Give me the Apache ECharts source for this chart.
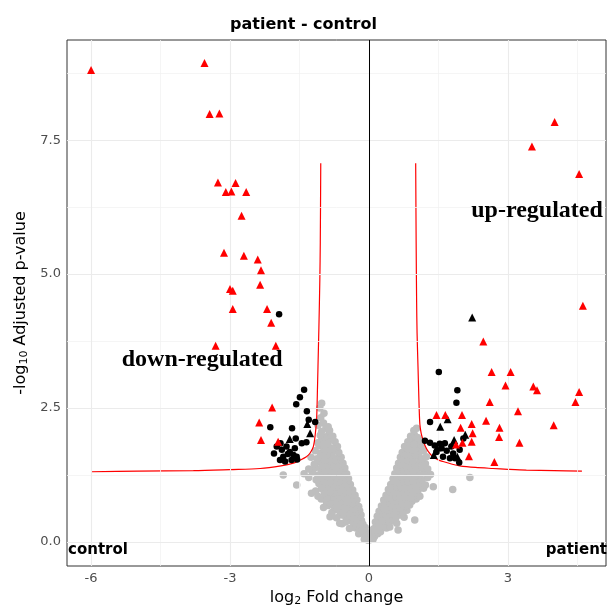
<!DOCTYPE html>
<html>
<head>
<meta charset="utf-8">
<title>patient - control</title>
<script src="https://cdn.jsdelivr.net/npm/echarts@6/dist/echarts.min.js"></script>
<style>
  html, body { margin: 0; padding: 0; background: #fff; }
  #volcano { width: 607px; height: 608px; }
</style>
</head>
<body>
<div id="volcano"></div>
<script>
  // axis ticks / gridlines
  const xTicks = [-6, -3, 0, 3];
  const xMinor = [-4.5, -1.5, 1.5, 4.5];
  const yTicks = [0, 2.5, 5, 7.5];
  const yMinor = [1.25, 3.75, 6.25, 8.75];

  // not significant (grey)
  const greyPts = [
    [-0.02,0.03],[-0.05,0.06],[-0.08,0.1],[-0.1,0.05],[-0.04,0.12],
    [-0.06,0.18],[-0.12,0.16],[-0.18,0.2],[-0.22,0.15],[-0.15,0.24],
    [-0.08,0.27],[-0.2,0.3],[-0.28,0.26],[-0.35,0.28],[-0.42,0.25],[-0.13,0.33],
    [-0.16,0.4],[-0.24,0.38],[-0.32,0.36],[-0.4,0.4],[-0.5,0.37],[-0.58,0.34],[-0.63,0.35],
    [-0.17,0.5],[-0.26,0.47],[-0.34,0.45],[-0.42,0.49],[-0.5,0.46],[-0.6,0.5],[-0.7,0.45],[-0.84,0.47],
    [-0.2,0.58],[-0.28,0.56],[-0.36,0.6],[-0.44,0.55],[-0.52,0.59],[-0.62,0.56],[-0.72,0.6],[-0.8,0.55],
    [-0.22,0.66],[-0.3,0.7],[-0.38,0.65],[-0.47,0.69],[-0.56,0.66],[-0.65,0.7],[-0.75,0.66],[-0.88,0.68],[-0.98,0.64],
    [-0.26,0.78],[-0.34,0.75],[-0.42,0.8],[-0.5,0.76],[-0.6,0.8],[-0.7,0.76],[-0.8,0.79],[-0.92,0.75],[-1.03,0.8],
    [-0.3,0.87],[-0.38,0.9],[-0.46,0.85],[-0.55,0.89],[-0.64,0.86],[-0.74,0.9],[-0.84,0.86],[-0.95,0.89],[-1.1,0.85],[-1.24,0.91],
    [-0.35,0.97],[-0.43,1.0],[-0.52,0.95],[-0.6,0.99],[-0.7,0.96],[-0.8,1.0],[-0.9,0.96],[-1.02,0.99],[-1.15,0.95],
    [-0.4,1.07],[-0.48,1.1],[-0.57,1.05],[-0.66,1.09],[-0.76,1.06],[-0.86,1.1],[-0.97,1.05],[-1.08,1.09],[-1.56,1.06],
    [-0.44,1.18],[-0.53,1.15],[-0.62,1.2],[-0.72,1.16],[-0.82,1.2],[-0.92,1.15],[-1.02,1.19],[-1.14,1.16],[-1.3,1.2],
    [-0.48,1.27],[-0.58,1.3],[-0.68,1.25],[-0.78,1.29],[-0.88,1.26],[-0.98,1.3],[-1.1,1.25],[-1.22,1.3],[-1.4,1.27],[-1.85,1.25],
    [-0.52,1.38],[-0.62,1.35],[-0.72,1.4],[-0.82,1.36],[-0.92,1.4],[-1.03,1.35],[-1.15,1.39],[-1.3,1.36],
    [-0.56,1.47],[-0.66,1.5],[-0.76,1.45],[-0.86,1.49],[-0.96,1.46],[-1.06,1.5],[-1.18,1.45],
    [-0.6,1.58],[-0.7,1.55],[-0.8,1.6],[-0.9,1.56],[-1.0,1.6],[-1.12,1.55],[-1.25,1.58],
    [-0.65,1.67],[-0.75,1.7],[-0.85,1.65],[-0.95,1.69],[-1.05,1.66],[-1.16,1.7],
    [-0.68,1.78],[-0.78,1.75],[-0.88,1.8],[-0.98,1.76],[-1.08,1.8],
    [-0.73,1.87],[-0.82,1.9],[-0.92,1.86],[-1.02,1.9],[-1.1,1.85],
    [-0.78,1.97],[-0.87,2.0],[-0.96,1.95],[-1.05,1.99],
    [-0.85,2.08],[-0.93,2.12],[-1.02,2.06],[-0.88,2.15],[-1.1,2.18],[-0.98,2.22],
    [-1.04,2.32],[-0.97,2.4],[-1.02,2.59],[-1.06,2.5],
    [-0.07,0.13],[-0.14,0.22],[-0.2,0.34],[-0.27,0.42],[-0.3,0.52],[-0.38,0.5],[-0.46,0.52],[-0.55,0.53],
    [-0.33,0.62],[-0.41,0.6],[-0.5,0.63],[-0.58,0.61],[-0.68,0.63],
    [-0.36,0.72],[-0.45,0.74],[-0.54,0.72],[-0.63,0.74],[-0.72,0.71],[-0.84,0.73],
    [-0.4,0.83],[-0.48,0.82],[-0.58,0.84],[-0.68,0.82],[-0.78,0.84],[-0.9,0.82],
    [-0.45,0.93],[-0.55,0.92],[-0.65,0.93],[-0.75,0.92],[-0.85,0.93],[-0.96,0.92],
    [-0.5,1.03],[-0.6,1.02],[-0.7,1.03],[-0.8,1.02],[-0.9,1.03],[-1.02,1.02],
    [-0.55,1.13],[-0.65,1.12],[-0.75,1.13],[-0.85,1.12],[-0.96,1.13],
    [-0.6,1.23],[-0.7,1.22],[-0.8,1.23],[-0.9,1.22],[-1.0,1.23],
    [-0.65,1.33],[-0.75,1.32],[-0.85,1.33],[-0.95,1.32],
    [-0.7,1.43],[-0.8,1.42],[-0.9,1.43],[-1.0,1.42],
    [-0.75,1.53],[-0.85,1.52],[-0.95,1.53],
    [-0.8,1.63],[-0.9,1.62],[-1.0,1.63],
    [-0.85,1.73],[-0.95,1.72],
    [-0.9,1.83],[-0.98,1.82],
    [0.02,0.04],[0.05,0.08],[0.09,0.05],[0.12,0.1],[0.04,0.13],
    [0.07,0.17],[0.13,0.2],[0.19,0.15],[0.25,0.19],[0.1,0.24],
    [0.15,0.28],[0.22,0.25],[0.3,0.3],[0.38,0.26],[0.45,0.28],[0.63,0.22],
    [0.14,0.37],[0.2,0.4],[0.28,0.35],[0.36,0.39],[0.44,0.36],[0.52,0.4],[0.6,0.35],
    [0.18,0.48],[0.25,0.45],[0.33,0.5],[0.41,0.46],[0.5,0.49],[0.58,0.45],[0.67,0.5],[0.76,0.46],[0.99,0.41],
    [0.22,0.57],[0.3,0.6],[0.38,0.55],[0.46,0.59],[0.55,0.56],[0.64,0.6],[0.73,0.55],[0.82,0.59],
    [0.27,0.67],[0.35,0.7],[0.43,0.65],[0.51,0.69],[0.6,0.66],[0.69,0.7],[0.78,0.66],[0.88,0.69],
    [0.32,0.78],[0.4,0.75],[0.48,0.8],[0.56,0.76],[0.65,0.8],[0.74,0.75],[0.83,0.79],[0.93,0.76],[1.02,0.8],
    [0.37,0.87],[0.45,0.9],[0.53,0.85],[0.62,0.89],[0.71,0.86],[0.8,0.9],[0.9,0.86],[1.0,0.9],[1.1,0.85],
    [0.42,0.98],[0.5,0.95],[0.58,1.0],[0.67,0.96],[0.76,1.0],[0.86,0.95],[0.96,0.99],[1.06,0.96],[1.18,1.0],[1.81,0.98],
    [0.47,1.07],[0.55,1.1],[0.63,1.05],[0.72,1.09],[0.81,1.06],[0.9,1.1],[1.0,1.05],[1.1,1.09],[1.22,1.06],[1.39,1.03],
    [0.52,1.18],[0.6,1.15],[0.68,1.2],[0.77,1.16],[0.86,1.2],[0.95,1.15],[1.05,1.19],[1.15,1.16],[1.27,1.2],
    [0.56,1.27],[0.64,1.3],[0.73,1.25],[0.82,1.29],[0.91,1.26],[1.0,1.3],[1.1,1.25],[1.2,1.29],[1.33,1.26],[2.18,1.2],
    [0.6,1.38],[0.68,1.35],[0.77,1.4],[0.86,1.36],[0.95,1.4],[1.05,1.35],[1.15,1.39],[1.27,1.36],
    [0.64,1.47],[0.72,1.5],[0.81,1.45],[0.9,1.49],[1.0,1.46],[1.1,1.5],[1.22,1.46],
    [0.68,1.58],[0.76,1.55],[0.85,1.6],[0.94,1.56],[1.04,1.6],[1.14,1.55],[1.24,1.59],
    [0.72,1.67],[0.81,1.7],[0.9,1.65],[0.99,1.69],[1.08,1.66],[1.18,1.7],
    [0.77,1.78],[0.86,1.75],[0.95,1.8],[1.04,1.76],[1.13,1.8],
    [0.84,1.87],[0.93,1.9],[1.02,1.86],[1.1,1.9],
    [0.9,1.97],[0.98,2.0],[1.05,1.95],[0.97,2.08],[1.03,2.12],
    [0.07,0.12],[0.15,0.22],[0.22,0.33],[0.29,0.42],[0.3,0.52],[0.38,0.5],[0.46,0.52],[0.55,0.53],
    [0.33,0.62],[0.41,0.6],[0.5,0.63],[0.58,0.61],[0.68,0.63],
    [0.36,0.72],[0.45,0.74],[0.54,0.72],[0.63,0.74],[0.72,0.71],[0.84,0.73],
    [0.4,0.83],[0.48,0.82],[0.58,0.84],[0.68,0.82],[0.78,0.84],[0.9,0.82],
    [0.45,0.93],[0.55,0.92],[0.65,0.93],[0.75,0.92],[0.85,0.93],[0.96,0.92],
    [0.5,1.03],[0.6,1.02],[0.7,1.03],[0.8,1.02],[0.9,1.03],[1.02,1.02],
    [0.55,1.13],[0.65,1.12],[0.75,1.13],[0.85,1.12],[0.96,1.13],
    [0.6,1.23],[0.7,1.22],[0.8,1.23],[0.9,1.22],[1.0,1.23],
    [0.65,1.33],[0.75,1.32],[0.85,1.33],[0.95,1.32],
    [0.7,1.43],[0.8,1.42],[0.9,1.43],[1.0,1.42],
    [0.75,1.53],[0.85,1.52],[0.95,1.53],
    [0.8,1.63],[0.9,1.62],[1.0,1.63],
    [0.85,1.73],[0.95,1.72],
    [0.9,1.83],[0.98,1.82]
  ];

  // significant p, small fold change (black)
  const blackCircles = [
    [-1.94,4.25],[-1.40,2.84],[-1.49,2.70],[-1.57,2.57],[-1.34,2.44],[-2.13,2.14],[-1.66,2.12],
    [-1.30,2.28],[-1.16,2.24],[-1.91,1.84],[-1.78,1.78],[-1.58,1.93],[-1.45,1.84],[-1.35,1.86],
    [-1.88,1.72],[-1.71,1.68],[-1.63,1.62],[-1.56,1.59],[-2.05,1.65],[-1.85,1.59],[-1.75,1.64],
    [-1.60,1.75],[-1.92,1.53],[-1.81,1.50],[-1.67,1.53],[-1.55,1.54],[-1.99,1.78],
    [1.51,3.17],[1.91,2.83],[1.89,2.60],[1.32,2.24],[1.21,1.89],[1.32,1.85],[1.42,1.80],
    [1.53,1.83],[1.64,1.84],[1.78,1.78],[1.57,1.75],[1.68,1.70],[1.82,1.65],[1.60,1.59],
    [1.75,1.56],[1.95,1.48],[1.46,1.68],[1.96,1.72],[1.86,1.56],[2.04,1.93]
  ];
  const blackTriangles = [
    [-1.33,2.20],[-1.27,2.03],[-1.71,1.92],
    [2.23,4.19],[1.54,2.15],[1.70,2.29],[2.08,2.0],[1.84,1.90],[1.40,1.62],[1.91,1.59],[1.47,1.76]
  ];

  // significant p and fold change (red)
  const redTriangles = [
    [-6.0,8.81],[-3.55,8.94],[-3.44,7.99],[-3.23,8.0],[-3.26,6.71],[-2.88,6.70],[-3.09,6.53],
    [-2.97,6.54],[-2.65,6.53],[-2.75,6.09],[-3.13,5.40],[-2.70,5.34],[-2.40,5.27],[-2.33,5.07],
    [-3.0,4.72],[-2.94,4.69],[-2.35,4.80],[-2.94,4.35],[-2.20,4.35],[-2.11,4.09],[-3.31,3.66],
    [-2.01,3.66],[-2.09,2.51],[-2.37,2.23],[-2.33,1.90],[-1.96,1.87],
    [4.01,7.84],[3.52,7.38],[4.54,6.87],[4.62,4.41],[2.47,3.74],[2.65,3.17],[3.06,3.17],
    [2.95,2.92],[3.55,2.90],[3.63,2.83],[4.54,2.80],[4.46,2.61],[2.61,2.61],[3.22,2.44],
    [3.99,2.18],[1.46,2.37],[1.65,2.37],[2.01,2.37],[1.98,2.13],[2.22,2.20],[2.24,2.03],
    [2.53,2.26],[2.82,2.13],[2.81,1.96],[2.22,1.87],[2.02,1.85],[1.88,1.82],[3.25,1.85],
    [2.16,1.60],[2.71,1.49]
  ];

  // threshold curves
  const curveLeft = [
    [-1.04,7.07],[-1.05,5.6],[-1.06,4.89],[-1.08,4.0],[-1.09,3.64],[-1.11,2.9],[-1.13,2.28],
    [-1.16,2.0],[-1.2,1.78],[-1.27,1.66],[-1.35,1.59],[-1.5,1.52],[-1.63,1.47],[-1.9,1.42],
    [-2.35,1.37],[-3.0,1.35],[-3.79,1.33],[-5.0,1.32],[-6.0,1.31]
  ];
  const curveRight = [
    [1.01,7.07],[1.02,5.6],[1.03,4.5],[1.04,3.9],[1.06,3.27],[1.08,2.65],[1.1,2.2],
    [1.13,2.02],[1.17,1.9],[1.22,1.78],[1.28,1.69],[1.38,1.59],[1.5,1.53],[1.6,1.5],
    [1.8,1.45],[1.96,1.42],[2.3,1.39],[2.68,1.37],[3.0,1.355],[3.4,1.34],[4.0,1.33],[4.6,1.32]
  ];

  const annotations = [
    {name: 'down-regulated', value: [-3.6, 3.4]},
    {name: 'up-regulated', value: [3.63, 6.19]}
  ];

  const FONT = 'DejaVu Sans';
  const chart = echarts.init(document.getElementById('volcano'));

  function gridLines(vals, key, color, width) {
    return vals.map(v => ({[key]: v, lineStyle: {color: color, width: width, type: 'solid'}}));
  }

  const option = {
    animation: false,
    title: {
      text: 'patient - control',
      left: 'center',
      top: 12,
      textStyle: {fontFamily: FONT, fontSize: 16, fontWeight: 'bold', color: '#000'}
    },
    grid: {
      left: 67, right: 1, top: 40, bottom: 42,
      outerBoundsMode: 'none',
      show: true, borderColor: '#333', borderWidth: 1, backgroundColor: 'transparent'
    },
    xAxis: {
      type: 'value',
      min: -6.52, max: 5.12,
      name: '{n|log}{s|2}{n| Fold change}',
      nameLocation: 'middle',
      nameGap: 23,
      nameTextStyle: {
        rich: {
          n: {fontFamily: FONT, fontSize: 16, color: '#000'},
          s: {fontFamily: FONT, fontSize: 11, color: '#000', verticalAlign: 'bottom', padding: [6, 0, 0, 0]}
        }
      },
      axisLine: {show: false},
      axisTick: {show: true, customValues: xTicks, length: 4, lineStyle: {color: '#333'}},
      axisLabel: {customValues: xTicks, margin: 6, fontFamily: FONT, fontSize: 13, color: '#4d4d4d'},
      splitLine: {show: false}
    },
    yAxis: {
      type: 'value',
      min: -0.45, max: 9.37,
      name: '{n|-log}{s|10}{n| Adjusted p-value}',
      nameLocation: 'middle',
      nameRotate: 90,
      nameGap: 36,
      nameTextStyle: {
        rich: {
          n: {fontFamily: FONT, fontSize: 16, color: '#000'},
          s: {fontFamily: FONT, fontSize: 11, color: '#000', verticalAlign: 'bottom', padding: [6, 0, 0, 0]}
        }
      },
      axisLine: {show: false},
      axisTick: {show: true, customValues: yTicks, length: 4, lineStyle: {color: '#333'}},
      axisLabel: {
        customValues: yTicks, margin: 6, fontFamily: FONT, fontSize: 13, color: '#4d4d4d',
        formatter: v => v.toFixed(1)
      },
      splitLine: {show: false}
    },
    graphic: [
      {type: 'text', left: 68, top: 543, z: 100,
        style: {text: 'control', fontFamily: FONT, fontSize: 15, fontWeight: 'bold', fill: '#000'}},
      {type: 'text', right: 0, top: 543, z: 100,
        style: {text: 'patient', fontFamily: FONT, fontSize: 15, fontWeight: 'bold', fill: '#000'}}
    ],
    series: [
      {
        // background grid
        type: 'scatter', data: [], z: 1, silent: true,
        markLine: {
          silent: true, symbol: ['none', 'none'], label: {show: false}, animation: false,
          data: [].concat(
            gridLines(xMinor, 'xAxis', '#f3f3f3', 0.8),
            gridLines(yMinor, 'yAxis', '#f3f3f3', 0.8),
            gridLines(xTicks, 'xAxis', '#ebebeb', 1.1),
            gridLines(yTicks, 'yAxis', '#ebebeb', 1.1)
          )
        }
      },
      {
        name: 'ns', type: 'scatter', data: greyPts, z: 2,
        symbol: 'circle', symbolSize: 7.5, itemStyle: {color: '#bebebe', opacity: 1}
      },
      {
        // zero line
        type: 'scatter', data: [], z: 3, silent: true,
        markLine: {
          silent: true, symbol: ['none', 'none'], label: {show: false}, animation: false,
          data: [{xAxis: 0, lineStyle: {color: '#000', width: 1, type: 'solid'}}]
        }
      },
      {
        name: 'left threshold', type: 'line', data: curveLeft, z: 4,
        smooth: 0.3, showSymbol: false, lineStyle: {color: '#ff0000', width: 1.2}
      },
      {
        name: 'right threshold', type: 'line', data: curveRight, z: 4,
        smooth: 0.3, showSymbol: false, lineStyle: {color: '#ff0000', width: 1.2}
      },
      {
        name: 'sig', type: 'scatter', data: blackCircles, z: 5,
        symbol: 'circle', symbolSize: 6.5, itemStyle: {color: '#000', opacity: 1}
      },
      {
        name: 'sig fc', type: 'scatter', data: blackTriangles, z: 5,
        symbol: 'triangle', symbolSize: 8, itemStyle: {color: '#000', opacity: 1}
      },
      {
        name: 'up/down', type: 'scatter', data: redTriangles, z: 6,
        symbol: 'triangle', symbolSize: 8, itemStyle: {color: '#ff0000', opacity: 1}
      },
      {
        name: 'labels', type: 'scatter', data: annotations, z: 7, silent: true,
        symbolSize: 0, itemStyle: {opacity: 1},
        label: {
          show: true, position: 'inside', formatter: '{b}',
          fontFamily: 'Liberation Serif', fontWeight: 'bold', fontSize: 24, color: '#000'
        }
      }
    ]
  };

  chart.setOption(option);
</script>
</body>
</html>
